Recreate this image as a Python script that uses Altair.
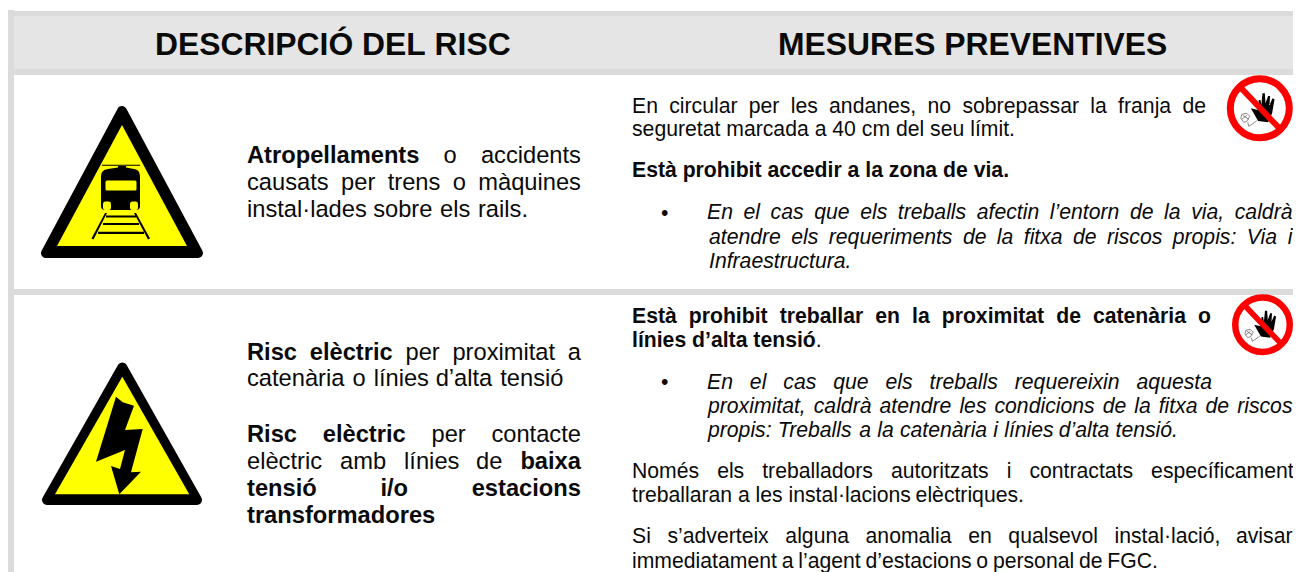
import re
import unicodedata
import altair as alt
import pandas as pd

# ---------- text content ----------
HEADERS = ["**DESCRIPCIÓ DEL RISC**", "**MESURES PREVENTIVES**"]
LEFT_TEXT = [
    "**Atropellaments** o accidents",
    "causats per trens o màquines",
    "instal·lades sobre els rails.",
    "**Risc elèctric** per proximitat a",
    "catenària o línies d’alta tensió",
    "**Risc elèctric** per contacte",
    "elèctric amb línies de **baixa**",
    "**tensió i/o estacions**",
    "**transformadores**",
]
RIGHT_TEXT = [
    "En circular per les andanes, no sobrepassar la franja de",
    "seguretat marcada a 40 cm del seu límit.",
    "**Està prohibit accedir a la zona de via.**",
    "**Està prohibit treballar en la proximitat de catenària o**",
    "**línies d’alta tensió**.",
    "Només els treballadors autoritzats i contractats específicament",
    "treballaran a les instal·lacions elèctriques.",
    "Si s’adverteix alguna anomalia en qualsevol instal·lació, avisar",
    "immediatament a l’agent d’estacions o personal de FGC.",
]
ITALIC_TEXT = [
    "En el cas que els treballs afectin l’entorn de la via, caldrà",
    "atendre els requeriments de la fitxa de riscos propis: Via i",
    "Infraestructura.",
    "En el cas que els treballs requereixin aquesta",
    "proximitat, caldrà atendre les condicions de la fitxa de riscos",
    "propis: Treballs a la catenària i línies d’alta tensió.",
]
BULLETS = ["•", "•"]

# ---------- layout of the lines (page pixels) ----------
HEADER_X = [155, 778]
HEADER_BASE = [55, 55]
LEFT_BASE = [162.5, 190, 217, 359.5, 386, 441.5, 469, 496, 523]
LEFT_END = [581, 581, 528, 581, 563.5, 581, 581, 581, None]
RIGHT_BASE = [112.5, 135.5, 177, 322.5, 347, 477.5, 501.5, 543, 567.5]
RIGHT_END = [1206, None, None, 1211, None, 1292.5, 1024, 1292.5, 1158]
ITALIC_X = [707, 709, 709, 707, 708, 708]
ITALIC_BASE = [219, 243.5, 267.5, 388.5, 412.5, 436.5]
ITALIC_END = [1292.5, 1292.5, None, 1212, 1292.5, 1178]
BULLET_X = [661, 661]
BULLET_BASE = [219.5, 388.5]
SIZE_HEADER, SIZE_LEFT, SIZE_RIGHT = 31.85, 23.7, 21.2

# ---------- Helvetica/Arial advance widths, used to justify lines ----------
W_REG = dict(zip("abcdefghijklmnopqrstuvwxyz",
    [556,556,500,556,556,278,556,556,222,222,500,222,833,556,556,556,556,333,500,278,556,500,722,500,500,500]))
W_BOLD = dict(zip("abcdefghijklmnopqrstuvwxyz",
    [556,611,556,611,556,333,611,611,278,278,556,278,889,611,611,611,611,389,556,333,611,556,778,556,556,500]))
W_CAP = dict(zip("ABCDEFGHIJKLMNOPQRSTUVWXYZ",
    [667,667,722,722,667,611,778,722,278,500,667,556,833,722,778,667,778,722,667,611,722,667,944,667,667,611]))
W_CAP_B = dict(W_CAP, A=722, B=722, J=556, K=722, L=611, O=778, Y=667)


def adv(word, bold, size):
    total = 0
    for ch in word:
        c = unicodedata.normalize("NFD", ch)[0]
        if c in "abcdefghijklmnopqrstuvwxyz":
            total += (W_BOLD if bold else W_REG)[c]
        elif c in W_CAP:
            total += (W_CAP_B if bold else W_CAP)[c]
        elif c.isdigit():
            total += 556
        elif c == ":":
            total += 333 if bold else 278
        elif c == "’":
            total += 278 if bold else 222
        else:
            total += 278
    return total * size / 1000


def place(text, x0, x1, base, size, italic=False):
    """Split a line in words and spread them like a justified paragraph."""
    groups = []
    prev_open = False
    for i, part in enumerate(text.split("**")):
        bold = i % 2 == 1
        if not part:
            continue
        glue = prev_open and not part[0].isspace()
        for j, word in enumerate(part.split()):
            tok = (word, bold)
            if j == 0 and glue:
                groups[-1].append(tok)
            else:
                groups.append([tok])
        prev_open = not part[-1].isspace()
    widths = [sum(adv(w, b, size) for w, b in g) for g in groups]
    if x1 is None or len(groups) == 1:
        gap = adv(" ", False, size)
    else:
        gap = (x1 - x0 - sum(widths)) / (len(groups) - 1)
    rows, x = [], x0
    for g, wd in zip(groups, widths):
        cx = x
        for w, b in g:
            rows.append(dict(x=cx, y=base, word=w, size=size,
                             style="i" if italic else ("b" if b else "r")))
            cx += adv(w, b, size)
        x += wd + gap
    return rows


rows = []
for t, x, b in zip(HEADERS, HEADER_X, HEADER_BASE):
    rows += place(t, x, None, b, SIZE_HEADER)
for t, e, b in zip(LEFT_TEXT, LEFT_END, LEFT_BASE):
    rows += place(t, 247, e, b, SIZE_LEFT)
for t, e, b in zip(RIGHT_TEXT, RIGHT_END, RIGHT_BASE):
    rows += place(t, 632, e, b, SIZE_RIGHT)
for t, x, e, b in zip(ITALIC_TEXT, ITALIC_X, ITALIC_END, ITALIC_BASE):
    rows += place(t, x, e, b, SIZE_RIGHT, italic=True)
for t, x, b in zip(BULLETS, BULLET_X, BULLET_BASE):
    rows += place(t, x, None, b, SIZE_RIGHT)
words = pd.DataFrame(rows)

# ---------- scales: one data unit is one pixel of the page ----------
X = alt.X("x:Q", scale=alt.Scale(domain=[8, 1293], nice=False, zero=False), axis=None)
Y = alt.Y("y:Q", scale=alt.Scale(domain=[8, 572], nice=False, zero=False, reverse=True), axis=None)
X2, Y2 = alt.X2("x2:Q"), alt.Y2("y2:Q")

# ---------- background panels ----------
PANEL_X = [8, 8, 14, 14, 14]
PANEL_X2 = [14, 1293, 1293, 1293, 1293]
PANEL_Y = [10, 11, 16, 69, 289]
PANEL_Y2 = [572, 16, 69, 75, 295]
PANEL_FILL = ["#dbdbdb", "#dbdbdb", "#e5e5e5", "#dbdbdb", "#dbdbdb"]
panels = pd.DataFrame(dict(x=PANEL_X, x2=PANEL_X2, y=PANEL_Y, y2=PANEL_Y2, fill=PANEL_FILL))
bg = alt.Chart(panels).mark_rect().encode(
    x=X, x2=X2, y=Y, y2=Y2, fill=alt.Fill("fill:N", scale=None))


# ---------- icons, as symbol paths in page pixels shifted to their anchor ----------
def shift(path, cx, cy):
    nums = iter([cx, cy] * 200)
    return re.sub(r"-?\d+\.?\d*", lambda m: f"{float(m.group()) - next(nums):.2f}", path)


def icon(path, cx, cy, scale=1.0, **kw):
    pos = pd.DataFrame(dict(x=[cx], y=[cy]))
    base = dict(opacity=1, size=4 * scale * scale)
    base.update(kw)
    return alt.Chart(pos).mark_point(shape=path, **base).encode(x=X, y=Y)


def solid(path, cx, cy, color, **kw):
    return icon(shift(path, cx, cy), cx, cy, filled=True, fill=color, stroke=color, strokeWidth=0, **kw)


TRI1 = "M122 111 L46 253 L198 253 Z"
TRI1_IN = "M122 125 L57 246 L187 246 Z"
TRI2 = "M122.3 367.5 L47 500 L197 500 Z"
TRI2_IN = "M122.3 376.7 L55 494.3 L189.3 494.3 Z"
TRAIN_BODY = ("M101 176 Q101 170 108 169 L118 167.5 L118 166 L126 166 L126 167.5 L134 169 "
              "Q140 170 140 176 L140 206 Q140 210 136 210 L105 210 Q101 210 101 206 Z")
TRAIN_WIRE = "M102 164.8 L140 164.8 L140 165.8 L102 165.8 Z"
TRAIN_WIN = "M107 180.5 L135 180.5 Q136.5 180.5 136.5 182 L136.5 189 Q136.5 190.5 135 190.5 L107 190.5 Q105.5 190.5 105.5 189 L105.5 182 Q105.5 180.5 107 180.5 Z"
TRAIN_L1 = "M105 201.5 L109 201.5 Q111 201.5 111 204 L111 208 Q111 210 109 210 L105 210 Q103 210 103 208 L103 204 Q103 201.5 105 201.5 Z"
TRAIN_L2 = "M132 201.5 L136 201.5 Q138 201.5 138 204 L138 208 Q138 210 136 210 L132 210 Q130 210 130 208 L130 204 Q130 201.5 132 201.5 Z"
RAILS = ("M105 213 L107 213 L93.5 239.5 L91.5 238.5 Z M134 213 L136 213 L150 238.5 L148 239.5 Z "
         "M106 215.5 L136 215.5 L136 217.5 L106 217.5 Z M103 223 L139 223 L139 225 L103 225 Z "
         "M98 231.7 L144 231.7 L144 234 L98 234 Z")
BOLT = ("M116 396.7 L122.7 402.3 L134 405.7 L125 430 L142.7 429 L131 472.3 L141 471.7 L119.3 494.3 "
        "L111 466 L120 469 L125 450 L96 461.7 Z")

HAND = ("M-9 0 L-2 1.7 L-1 -8.3 L0.7 -8.3 L1.5 -3.3 L2.7 -15 L5 -15 L5.7 -5 L8.3 -12.3 L10.3 -12.3 "
        "L9.7 -3.3 L12.7 -10 L14.7 -9 L12.3 5 L8.3 14 L-1.7 12.7 Z")
BAR = "M-18.5 -20 L20 20.5"
FACE = ("M-18 6 L-13 5 L-10 8 L-13 13 L-16 14 L-19 10 Z M-17 7 L-11 11 M-12 14 L-11 18 L-3 12.5 "
        "M-18 11 L-13 7")
SIGN_R = [33.0, 30.5]
SIGN_X = [1259.8, 1262.5]
SIGN_Y = [108.3, 324.7]


def sign(cx, cy, r):
    k = r / 33.0
    return [
        alt.Chart(pd.DataFrame(dict(x=[cx], y=[cy]))).mark_point(
            shape="circle", size=(2 * (r - 3.5 * k)) ** 2, filled=True, fill="#ffffff",
            stroke="#ff0000", strokeWidth=7 * k, opacity=1).encode(x=X, y=Y),
        icon(HAND, cx, cy, k, filled=True, fill="#000000", strokeWidth=0),
        icon(FACE, cx, cy, k, filled=False, stroke="#555555", strokeWidth=0.7),
        icon(BAR, cx, cy, k, filled=False, stroke="#ff0000", strokeWidth=6 * k),
    ]


icons = [
    icon(shift(TRI1, 122, 190), 122, 190, filled=True, fill="#000000", stroke="#000000",
         strokeWidth=10, strokeJoin="round"),
    solid(TRI1_IN, 122, 190, "#ffff00"),
    solid(TRAIN_BODY, 122, 190, "#000000"),
    solid(TRAIN_WIRE, 122, 190, "#000000"),
    solid(TRAIN_WIN, 122, 190, "#ffff00"),
    solid(TRAIN_L1, 122, 190, "#ffff00"),
    solid(TRAIN_L2, 122, 190, "#ffff00"),
    solid(RAILS, 122, 190, "#000000"),
    icon(shift(TRI2, 122, 450), 122, 450, filled=True, fill="#000000", stroke="#000000",
         strokeWidth=10, strokeJoin="round"),
    solid(TRI2_IN, 122, 450, "#ffff00"),
    solid(BOLT, 122, 450, "#000000"),
]
for cx, cy, r in zip(SIGN_X, SIGN_Y, SIGN_R):
    icons += sign(cx, cy, r)


# ---------- text ----------
def text_layer(style, **kw):
    return alt.Chart(words[words["style"] == style]).mark_text(
        align="left", baseline="alphabetic", font="Liberation Sans", color="#0a0a0a", **kw
    ).encode(x=X, y=Y, text="word:N", size=alt.Size("size:Q", scale=None))


texts = [
    text_layer("r"),
    text_layer("b", fontWeight="bold"),
    text_layer("i", fontStyle="italic"),
]

chart = alt.layer(bg, *icons, *texts).properties(
    width=1285, height=564, padding=0, autosize=alt.AutoSizeParams(type="none"),
    background="#ffffff",
).configure_view(stroke=None)

chart.save("out.html", embed_options={"renderer": "svg", "actions": False})
